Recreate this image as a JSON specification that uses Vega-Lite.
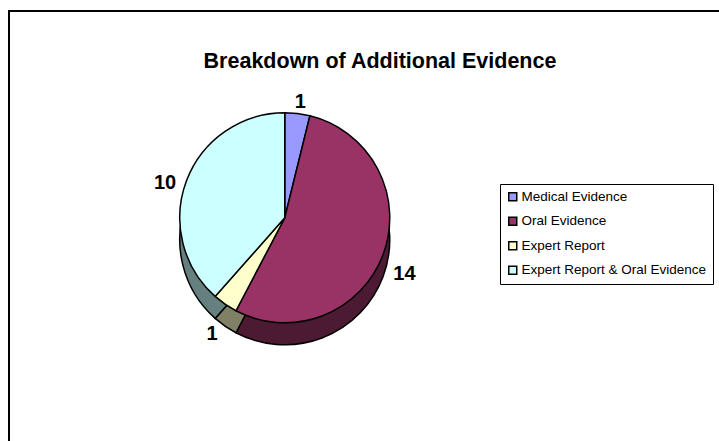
{
  "$schema": "https://vega.github.io/schema/vega-lite/v6.json",
  "width": 720,
  "height": 440,
  "autosize": "none",
  "padding": {"left": 9, "top": 11, "right": 0, "bottom": 0},
  "background": "white",
  "view": {"stroke": "black", "strokeWidth": 2},
  "title": {
    "text": "Breakdown of Additional Evidence",
    "font": "Liberation Sans",
    "fontSize": 21.5,
    "fontWeight": "bold",
    "color": "black",
    "anchor": "middle",
    "dx": 11,
    "dy": 65
  },
  "config": {"view": {"stroke": "black", "strokeWidth": 2}},
  "data": {
    "values": [
      {"slice": 1, "category": "Medical Evidence", "count": 1},
      {"slice": 2, "category": "Oral Evidence", "count": 14},
      {"slice": 3, "category": "Expert Report", "count": 1},
      {"slice": 4, "category": "Expert Report & Oral Evidence", "count": 10}
    ]
  },
  "layer": [
    {
      "description": "Pie side (depth), darker shades, shifted down",
      "mark": {
        "type": "arc",
        "outerRadius": 105,
        "stroke": "black",
        "strokeWidth": 1.5,
        "x": {"expr": "width * 0.383"},
        "y": {"expr": "height * 0.52"}
      },
      "encoding": {
        "theta": {"field": "count", "type": "quantitative", "stack": true},
        "order": {"field": "slice", "type": "quantitative"},
        "color": {
          "field": "category",
          "type": "nominal",
          "sort": ["Medical Evidence", "Oral Evidence", "Expert Report", "Expert Report & Oral Evidence"],
          "scale": {
            "domain": ["Medical Evidence", "Oral Evidence", "Expert Report", "Expert Report & Oral Evidence"],
            "range": ["#4d4d80", "#4d1a33", "#808066", "#668080"]
          },
          "legend": null
        }
      }
    },
    {
      "description": "Pie top face",
      "mark": {
        "type": "arc",
        "outerRadius": 105,
        "stroke": "black",
        "strokeWidth": 1.5,
        "x": {"expr": "width * 0.383"},
        "y": {"expr": "height * 0.47"}
      },
      "encoding": {
        "theta": {"field": "count", "type": "quantitative", "stack": true},
        "order": {"field": "slice", "type": "quantitative"},
        "color": {
          "field": "category",
          "type": "nominal",
          "sort": ["Medical Evidence", "Oral Evidence", "Expert Report", "Expert Report & Oral Evidence"],
          "scale": {
            "domain": ["Medical Evidence", "Oral Evidence", "Expert Report", "Expert Report & Oral Evidence"],
            "range": ["#9999ff", "#993366", "#ffffcc", "#ccffff"]
          },
          "legend": {
            "orient": "none",
            "legendX": 491,
            "legendY": 173,
            "title": null,
            "strokeColor": "black",
            "fillColor": "white",
            "padding": 6,
            "labelFont": "Liberation Sans",
            "labelFontSize": 13.5,
            "labelColor": "black",
            "labelOffset": 2,
            "labelLimit": 300,
            "symbolType": "square",
            "symbolSize": 64,
            "symbolStrokeColor": "black",
            "symbolStrokeWidth": 1.5,
            "rowPadding": 9.5
          }
        }
      }
    },
    {
      "description": "Value labels around the pie",
      "mark": {
        "type": "text",
        "radius": 128,
        "font": "Liberation Sans",
        "fontSize": 20,
        "fontWeight": "bold",
        "color": "black",
        "x": {"expr": "width * 0.383"},
        "y": {"expr": "height * 0.495"}
      },
      "encoding": {
        "theta": {"field": "count", "type": "quantitative", "stack": true},
        "order": {"field": "slice", "type": "quantitative"},
        "text": {"field": "count", "type": "quantitative"}
      }
    }
  ],
  "resolve": {"scale": {"color": "independent"}}
}
